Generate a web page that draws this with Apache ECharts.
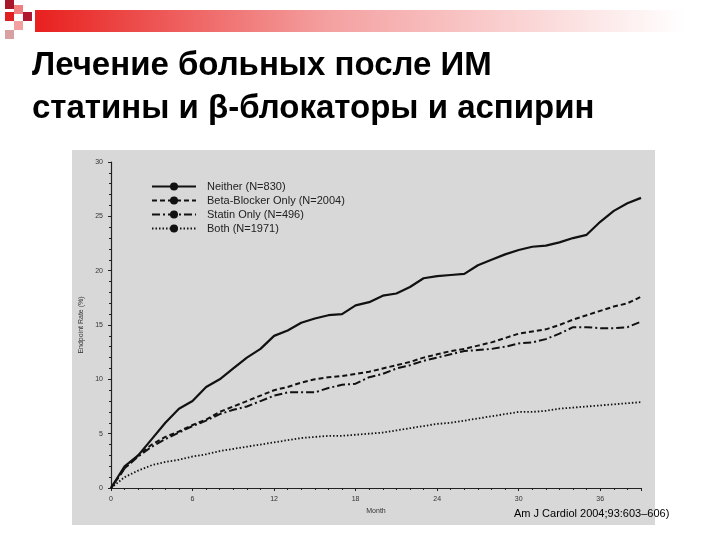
<!DOCTYPE html>
<html><head><meta charset="utf-8">
<script src="https://cdn.jsdelivr.net/npm/echarts@6/dist/echarts.min.js"></script>
<style>html,body{margin:0;padding:0;background:#fff}#c{width:720px;height:540px}</style>
</head><body><div id="c"></div>
<script>
const months = [0,1,2,3,4,5,6,7,8,9,10,11,12,13,14,15,16,17,18,19,20,21,22,23,24,25,26,27,28,29,30,31,32,33,34,35,36,37,38,39];
const neither = [0,2,3,4.5,6,7.3,8,9.3,10,11,12,12.8,14,14.5,15.2,15.6,15.9,16,16.8,17.1,17.7,17.9,18.5,19.3,19.5,19.6,19.7,20.5,21,21.5,21.9,22.2,22.3,22.6,23,23.3,24.5,25.5,26.2,26.7];
const betaOnly = [0,1.8,3,4,4.7,5.2,5.8,6.3,7,7.5,8,8.5,9,9.3,9.7,10,10.2,10.3,10.5,10.7,11,11.3,11.6,12,12.3,12.6,12.8,13.1,13.4,13.8,14.2,14.4,14.6,15,15.5,15.9,16.3,16.7,17,17.6];
const statinOnly = [0,1.8,2.9,3.8,4.5,5.1,5.7,6.2,6.8,7.2,7.5,8,8.5,8.8,8.8,8.8,9.2,9.5,9.6,10.2,10.5,11,11.3,11.7,12,12.3,12.6,12.7,12.8,13,13.3,13.4,13.7,14.2,14.8,14.8,14.7,14.7,14.8,15.3];
const both = [0,1,1.6,2.1,2.4,2.6,2.9,3.1,3.4,3.6,3.8,4,4.2,4.4,4.6,4.7,4.8,4.8,4.9,5,5.1,5.3,5.5,5.7,5.9,6,6.2,6.4,6.6,6.8,7,7,7.1,7.3,7.4,7.5,7.6,7.7,7.8,7.9];
const names = ['Neither (N=830)','Beta-Blocker Only (N=2004)','Statin Only (N=496)','Both (N=1971)'];
const titleLines = ['Лечение больных после ИМ','статины и β-блокаторы и аспирин'];
const citation = 'Am J Cardiol 2004;93:603–606)';
const pair = a => months.map((m,i)=>[m,a[i]]);
const styles = [
  {type:'solid',width:2.2},
  {type:[5,3],width:2},
  {type:[8,3,2,3],width:2},
  {type:[1.5,2],width:1.8}
];
const chart = echarts.init(document.getElementById('c'));
const sq = (x,y,c)=>({type:'rect',shape:{x:x,y:y,width:9,height:9},style:{fill:c},z:1});
chart.setOption({
  animation:false,
  graphic:[
    {type:'rect',shape:{x:35,y:10,width:650,height:22},style:{fill:new echarts.graphic.LinearGradient(0,0,1,0,[{offset:0,color:'#e8201e'},{offset:0.45,color:'#f4a0a0'},{offset:1,color:'#ffffff'}])},z:0},
    sq(5,0,'#a8182a'),sq(14,5,'#f08080'),sq(5,12,'#e02020'),sq(23,12,'#b01830'),sq(14,21,'#f4a0a0'),sq(5,30,'#d8a0a0'),
    {type:'rect',shape:{x:72,y:150,width:583,height:375},style:{fill:'#d8d8d8'},z:-10},
    {type:'text',left:32,top:44,style:{text:titleLines.join('\n'),font:'bold 33px Liberation Sans, Arial',fill:'#000',lineHeight:43}},
    {type:'text',left:514,top:508,style:{text:citation,font:'11px Liberation Sans, Arial',fill:'#000'}}
  ],
  legend:{left:146,top:176,orient:'vertical',itemGap:3,itemWidth:44,itemHeight:10,
    textStyle:{fontSize:11,color:'#222',fontFamily:'Liberation Sans, Arial',padding:[0,0,0,6]},data:names},
  grid:{left:111,right:79,top:162,bottom:52},
  xAxis:{type:'value',min:0,max:39,interval:6,name:'Month',nameLocation:'middle',nameGap:18,
    nameTextStyle:{fontSize:7,color:'#333'},
    axisLine:{lineStyle:{color:'#222',width:1.2}},axisTick:{lineStyle:{color:'#222'},length:3},
    minorTick:{show:true,splitNumber:6,length:2},
    axisLabel:{fontSize:7,color:'#333',formatter:v=>v>36?'':v},splitLine:{show:false}},
  yAxis:{type:'value',min:0,max:30,interval:5,name:'Endpoint Rate (%)',nameLocation:'middle',nameGap:24,
    nameTextStyle:{fontSize:7,color:'#333'},
    axisLine:{show:true,lineStyle:{color:'#222',width:1.2}},axisTick:{show:true,lineStyle:{color:'#222'},length:3},
    minorTick:{show:true,splitNumber:5,length:2},
    axisLabel:{fontSize:7,color:'#333'},splitLine:{show:false}},
  series:[neither,betaOnly,statinOnly,both].map((d,i)=>({
    name:names[i],type:'line',data:pair(d),showSymbol:false,symbol:'none',
    lineStyle:Object.assign({color:'#111'},styles[i]),itemStyle:{color:'#111'}
  }))
});
</script></body></html>
